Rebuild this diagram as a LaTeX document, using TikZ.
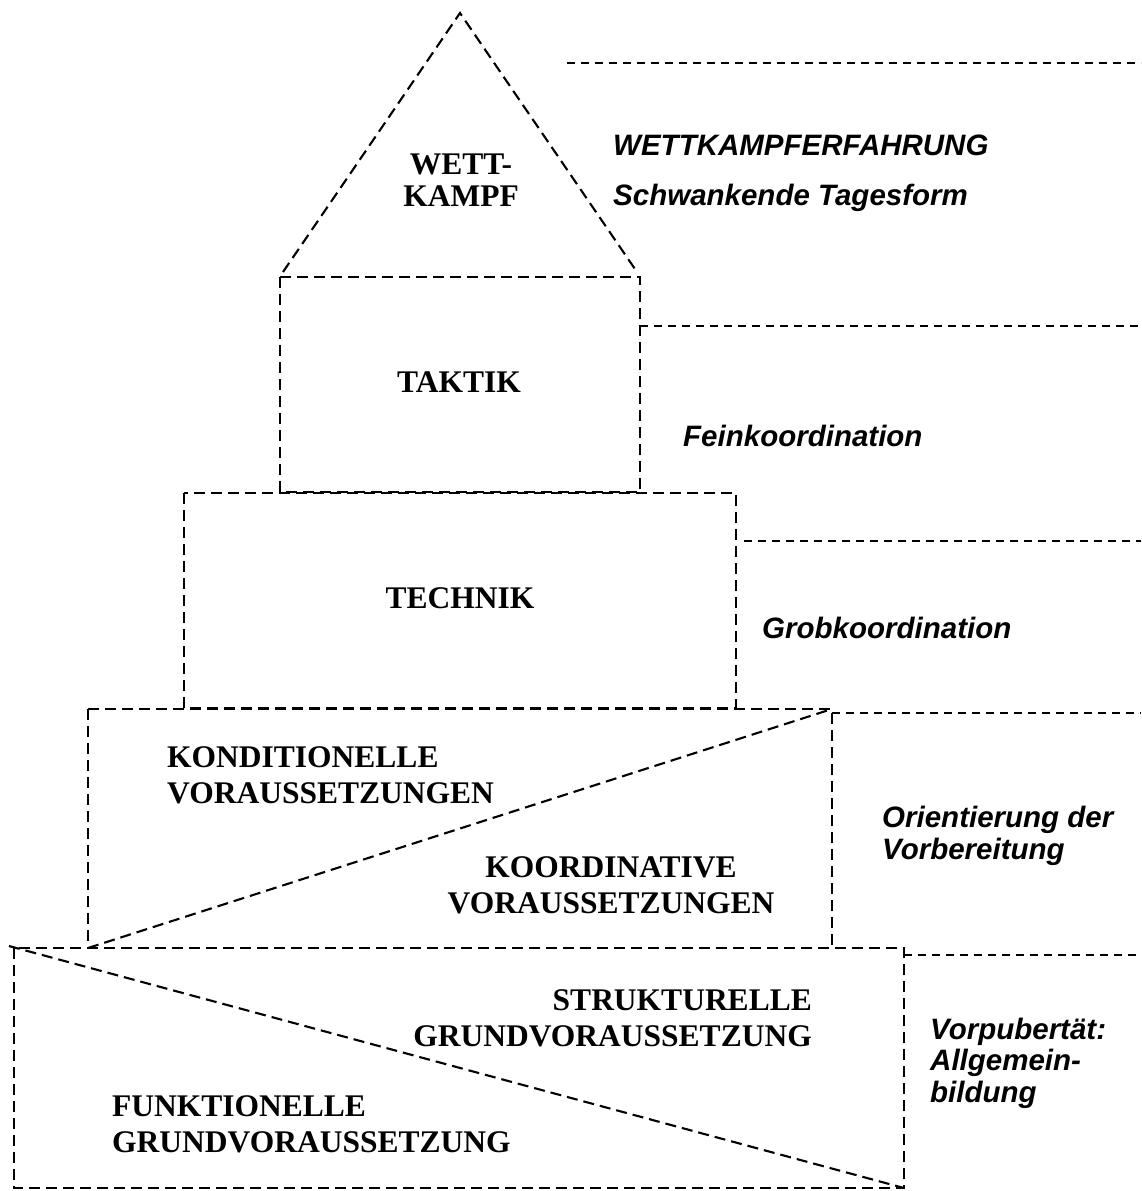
\documentclass[tikz,border=0pt]{standalone}
\usepackage{fontspec}
\setmainfont{Liberation Serif}
\newfontfamily\sidefont{Liberation Sans}
\usetikzlibrary{positioning,calc}

\begin{document}
\begin{tikzpicture}[x=1pt,y=-1pt,
    outline/.style={line width=2.1pt,dash pattern=on 11pt off 6pt},
    guide/.style={line width=1.9pt,dash pattern=on 8pt off 6pt},
    blocklabel/.style={font=\fontsize{31.5}{36}\selectfont\bfseries,inner sep=0pt},
    sidelabel/.style={font=\sidefont\fontsize{29.5}{31.5}\selectfont\bfseries\itshape,align=left,inner sep=0pt}]
  \useasboundingbox (0,0) rectangle (1141,1191);

  % house outline
  \coordinate (apex) at (460,13);
  \draw[outline] (283,272) -- (apex) -- (637,272);
  \draw[outline] (280,277) rectangle (640,492);
  \draw[outline] (184,493) rectangle (736,708);
  \draw[outline] (88,709) rectangle (832,948);
  \draw[outline] (88,948) -- (832,709);
  \draw[outline] (14,948) rectangle (904,1188);
  \draw[outline] (9,946) -- (904,1188);

  % level lines on the right
  \draw[guide] (567,63) -- (1141,63);
  \draw[guide] (640,326) -- (1141,326);
  \draw[guide] (744,541) -- (1141,541);
  \draw[guide] (832,713) -- (1141,713);
  \draw[guide] (904,955) -- (1141,955);

  % block names
  \node[blocklabel,align=center,font=\fontsize{31.5}{32}\selectfont\bfseries] (wettkampf) at (461,180) {WETT-\\KAMPF};
  \node[blocklabel] (taktik) at (459,382) {TAKTIK};
  \node[blocklabel] (technik) at (460,598) {TECHNIK};
  \node[blocklabel,align=left,anchor=west] (kondition) at (167,775) {KONDITIONELLE\\VORAUSSETZUNGEN};
  \node[blocklabel,align=center] (koordination) at (611,885) {KOORDINATIVE\\VORAUSSETZUNGEN};
  \node[blocklabel,align=right,anchor=east] (struktur) at (812,1018) {STRUKTURELLE\\GRUNDVORAUSSETZUNG};
  \node[blocklabel,align=left,anchor=west] (funktion) at (112,1124) {FUNKTIONELLE\\GRUNDVORAUSSETZUNG};

  % stages
  \node[sidelabel,anchor=base west] (erfahrung) at (613,155) {WETTKAMPFERFAHRUNG};
  \node[sidelabel,anchor=base west] (tagesform) at (613,205) {Schwankende Tagesform};
  \node[sidelabel,anchor=base west] (fein) at (683,446) {Feinkoordination};
  \node[sidelabel,anchor=base west] (grob) at (762,638) {Grobkoordination};
  \node[sidelabel,anchor=west] (orient) at (882,836) {Orientierung der\\Vorbereitung};
  \node[sidelabel,anchor=west] (vorpub) at (930,1063) {Vorpubertät:\\Allgemein-\\bildung};
\end{tikzpicture}
\end{document}
